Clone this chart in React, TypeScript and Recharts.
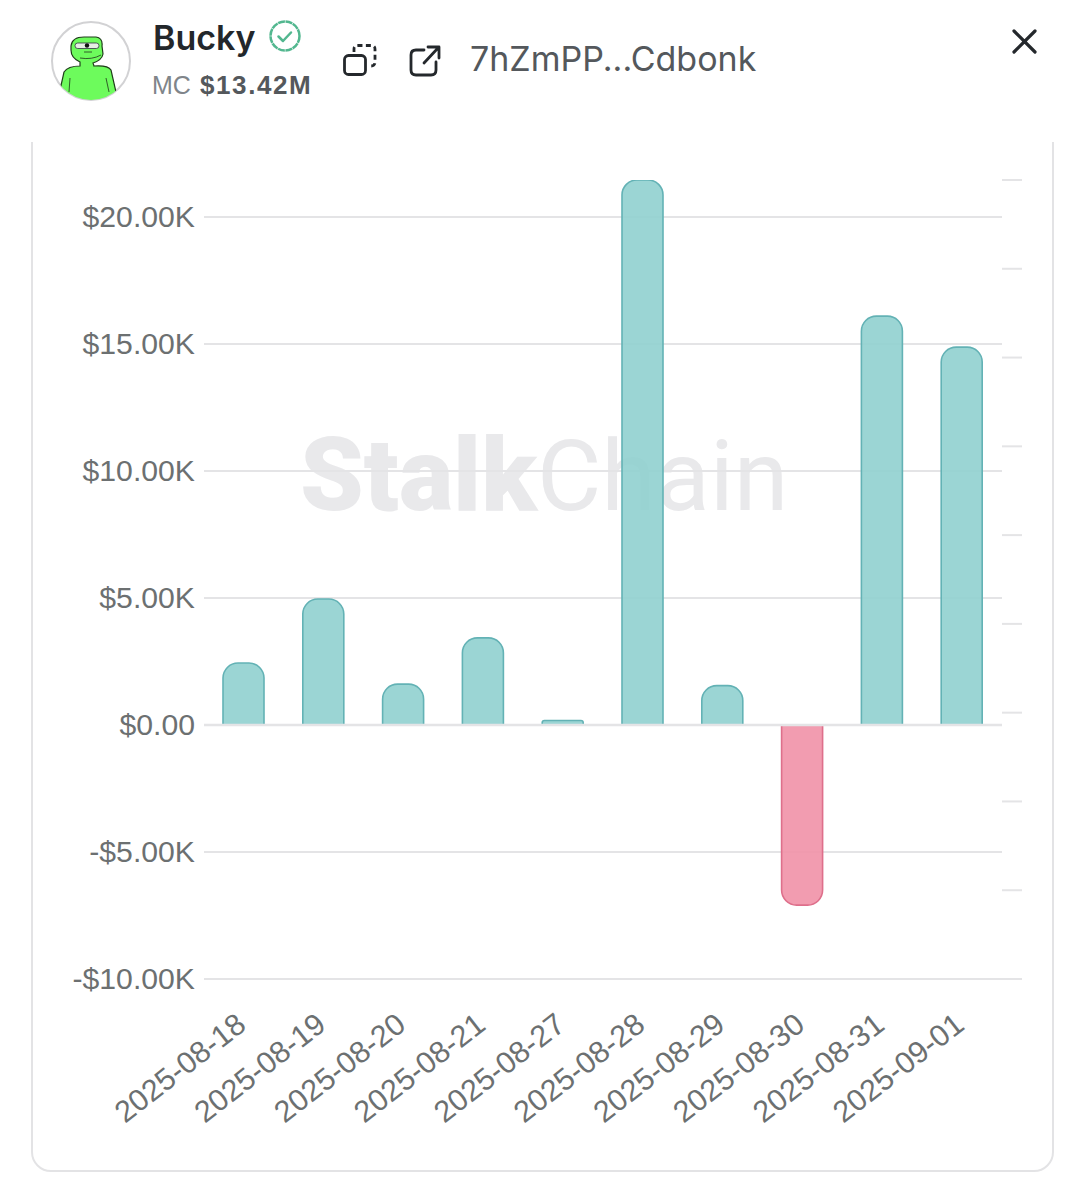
import { BarChart, Bar, Cell, XAxis, YAxis, CartesianGrid, ReferenceLine } from "recharts";

const dates = [
  "2025-08-18",
  "2025-08-19",
  "2025-08-20",
  "2025-08-21",
  "2025-08-27",
  "2025-08-28",
  "2025-08-29",
  "2025-08-30",
  "2025-08-31",
  "2025-09-01",
];
const pnl = [2440, 4960, 1610, 3430, 180, 21460, 1550, -7090, 16100, 14880];
const leftTicks = [-10000, -5000, 0, 5000, 10000, 15000, 20000];
const rightTicks = [0, 1, 2, 3, 4, 5, 6, 7, 8, 9];

const data = dates.map((date, i) => ({ date, pnl: pnl[i] }));

const formatMoney = (v: number) => {
  if (v === 0) return "$0.00";
  return (v < 0 ? "-" : "") + "$" + (Math.abs(v) / 1000).toFixed(2) + "K";
};

const FONT = '"Liberation Sans", Arial, sans-serif';

const XTick = ({ x, y, payload }: any) => (
  <text
    transform={`translate(${x + 4},${y + 41}) rotate(-38)`}
    textAnchor="end"
    fontFamily={FONT}
    fontSize={30.5}
    fill="#6c7071"
  >
    {payload.value}
  </text>
);

const Header = () => (
  <svg width={1085} height={130} style={{ position: "absolute", left: 0, top: 0 }}>
    <defs>
      <clipPath id="avatar">
        <circle cx={91} cy={61} r={39} />
      </clipPath>
    </defs>
    <circle cx={91} cy={61} r={39} fill="#fff" stroke="#d2d2d4" strokeWidth={2} />
    <g clipPath="url(#avatar)">
      <path
        d="M71 46 Q72 37 84 37 L96 37 Q103 38 102 46 L103 54 Q102 60 93 63 L94 66 Q108 65 111 70 L116 92 L116 102 L60 102 L60 90 L64 72 Q68 66 80 66 L80 62 Q71 58 71 50 Z"
        fill="#6dfb5c"
        stroke="#1f3d1a"
        strokeWidth={1.2}
      />
      <rect x={75} y={43} width={24} height={5.5} rx={2.7} fill="#e6eee6" stroke="#334" strokeWidth={0.8} />
      <circle cx={87} cy={45.5} r={2.2} fill="#111" />
      <path d="M84 52 L92 52 M80 58 Q92 60 101 55 M70 78 L69 92 M106 78 L109 92" stroke="#2a4a24" strokeWidth={0.9} fill="none" />
    </g>
    <text x={153} y={50} fontFamily="Inter, sans-serif" fontWeight={600} fontSize={34} fill="#23272b">
      Bucky
    </text>
    <circle cx={285} cy={36} r={14.5} fill="none" stroke="#52b78f" strokeWidth={2.5} strokeDasharray="7 0.6" />
    <path d="M278.5 36.5 L283 41 L291 32.5" fill="none" stroke="#52b78f" strokeWidth={2.5} strokeLinecap="round" strokeLinejoin="round" />
    <text x={152} y={94} fontFamily={FONT} fontSize={25} fill="#80858a">
      MC
    </text>
    <text x={200} y={94} fontFamily={FONT} fontWeight={700} fontSize={26} letterSpacing={1.6} fill="#54585c">
      $13.42M
    </text>
    <rect x={344.5} y={55.5} width={21} height={19} rx={4} fill="none" stroke="#24282c" strokeWidth={2.8} />
    <path
      d="M354 52 L354 49 Q354 45.5 358 45.5 L371 45.5 Q375 45.5 375 49 L375 62 Q375 66 371 66 L368 66"
      fill="none"
      stroke="#24282c"
      strokeWidth={2.8}
      strokeDasharray="5 3.4"
    />
    <path
      d="M424 50 L416 50 Q411 50 411 55 L411 70 Q411 75 416 75 L431 75 Q436 75 436 70 L436 62 M424 63 L438 48 M428 47 L439 47 L439 58"
      fill="none"
      stroke="#24282c"
      strokeWidth={2.8}
      strokeLinecap="round"
      strokeLinejoin="round"
    />
    <text x={470} y={71} fontFamily="Inter, sans-serif" fontSize={34} fill="#54585c">
      7hZmPP...Cdbonk
    </text>
    <path d="M1014 31 L1035 52 M1035 31 L1014 52" stroke="#24282c" strokeWidth={3.2} strokeLinecap="round" />
  </svg>
);

export default function App() {
  return (
    <div style={{ position: "absolute", left: 0, top: 0, width: 1085, height: 1200, background: "#fff", overflow: "hidden" }}>
      {/* card, top edge is hidden under the header */}
      <div
        style={{
          position: "absolute",
          left: 31,
          top: 100,
          width: 1023,
          height: 1072,
          border: "2px solid #e3e3e5",
          borderRadius: 20,
          boxSizing: "border-box",
        }}
      />
      <div style={{ position: "absolute", left: 0, top: 0, width: 1085, height: 142, background: "#fff" }} />
      <Header />
      <div
        style={{
          position: "absolute",
          left: 300,
          top: 416,
          fontFamily: "Roboto, sans-serif",
          fontSize: 100,
          lineHeight: "118px",
          color: "#e9e9eb",
          whiteSpace: "nowrap",
        }}
      >
        <span style={{ fontWeight: 900, fontSize: 102 }}>Stalk</span>
        <span style={{ fontWeight: 400, fontSize: 99 }}>Chain</span>
      </div>
      <div style={{ position: "absolute", left: 1, top: 0 }}>
        <BarChart width={1085} height={1200} data={data} margin={{ top: 180, right: 1, bottom: 0, left: 0 }} barCategoryGap="48%">
          <CartesianGrid vertical={false} stroke="#e4e4e6" strokeWidth={2} yAxisId="left" horizontalValues={leftTicks} />
          <XAxis
            dataKey="date"
            height={221}
            interval={0}
            axisLine={false}
            tickLine={false}
            tick={<XTick />}
          />
          <YAxis
            yAxisId="left"
            orientation="left"
            width={203}
            domain={[-10000, 21460]}
            ticks={leftTicks}
            allowDataOverflow
            interval={0}
            axisLine={false}
            tickLine={false}
            tickSize={0}
            tickMargin={9}
            tickFormatter={formatMoney}
            tick={{ fontFamily: FONT, fontSize: 30.2, fill: "#6c7071", dy: -0.5 }}
          />
          <YAxis
            yAxisId="right"
            orientation="right"
            width={83}
            domain={[0, 9]}
            ticks={rightTicks}
            allowDataOverflow
            interval={0}
            axisLine={false}
            tickSize={20}
            tickLine={{ stroke: "#e4e4e6", strokeWidth: 2 }}
            tickFormatter={() => ""}
          />
          <Bar
            yAxisId="left"
            dataKey="pnl"
            barSize={41}
            radius={[15, 15, 0, 0]}
            strokeWidth={1.6}
            isAnimationActive={false}
          >
            {data.map((d) => (
              <Cell
                key={d.date}
                fill={d.pnl < 0 ? "#f191a7" : "#90d0cf"}
                fillOpacity={0.9}
                stroke={d.pnl < 0 ? "#de6f8b" : "#63b2b5"}
              />
            ))}
          </Bar>
          <ReferenceLine yAxisId="left" y={0} stroke="#e4e4e6" strokeWidth={2.5} />
        </BarChart>
      </div>
    </div>
  );
}
